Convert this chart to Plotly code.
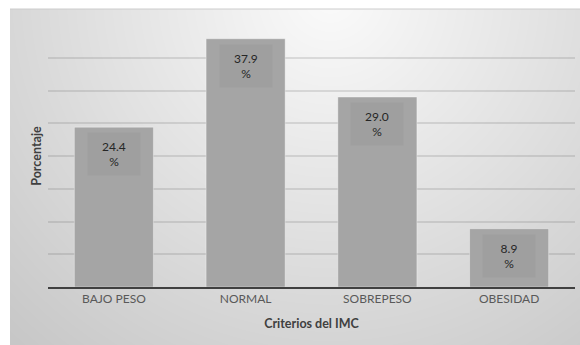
import base64, struct, zlib, math
import plotly.graph_objects as go

categories = ["BAJO PESO", "NORMAL", "SOBREPESO", "OBESIDAD"]
values = [24.4, 37.9, 29.0, 8.9]
label_texts = ["24.4<br>%", "37.9<br>%", "29.0<br>%", "8.9<br>%"]

W, H = 580, 345
ML, MR, MT, MB = 48, 5, 25, 58
PW, PH = W - ML - MR, H - MT - MB

# background gradient (radial, light at top-centre) as an inline PNG
PX0, PY0 = 10, 9
GW, GH = W - PX0, H - PY0


def make_png(w, h, fn):
    raw = bytearray()
    for j in range(h):
        raw.append(0)
        for i in range(w):
            raw.append(fn(i, j))

    def chunk(tag, data):
        c = tag + data
        return struct.pack(">I", len(data)) + c + struct.pack(">I", zlib.crc32(c) & 0xFFFFFFFF)

    png = b"\x89PNG\r\n\x1a\n"
    png += chunk(b"IHDR", struct.pack(">IIBBBBB", w, h, 8, 0, 0, 0, 0))
    png += chunk(b"IDAT", zlib.compress(bytes(raw), 9))
    png += chunk(b"IEND", b"")
    return png


def shade(i, j):
    x = i + PX0
    y = j + PY0
    d = math.hypot((x - 330) * 1.0, (y + 5) * 1.0)
    v = 251 - 0.11 * d
    return int(max(199, min(251, v)))


png = make_png(GW, GH, shade)
src = "data:image/png;base64," + base64.b64encode(png).decode()

fig = go.Figure()
fig.add_trace(go.Bar(
    x=categories, y=values,
    marker=dict(color="#a5a5a5", line=dict(color="rgba(255,255,255,0.35)", width=1)),
    width=0.6,
    hoverinfo="skip",
))

for c, v, t in zip(categories, values, label_texts):
    fig.add_annotation(
        x=c, y=v, xref="x", yref="y", text=t, showarrow=False,
        yanchor="top", yshift=-5, width=50, height=40,
        bgcolor="rgba(0,0,0,0.035)", valign="middle",
        font=dict(family="Lato", size=12, color="#262626"),
    )

fig.add_layout_image(
    source=src, xref="paper", yref="paper",
    x=(PX0 - ML) / PW, y=(H - MB - PY0) / PH,
    sizex=GW / PW, sizey=GH / PH,
    xanchor="left", yanchor="top", sizing="stretch", layer="below",
)
# thin top border of the chart panel
fig.add_shape(type="line", xref="paper", yref="paper",
              x0=(PX0 - ML) / PW, x1=1 + MR / PW,
              y0=(H - MB - PY0) / PH, y1=(H - MB - PY0) / PH,
              line=dict(color="#cccccc", width=1))

fig.update_layout(
    width=W, height=H,
    margin=dict(l=ML, r=MR, t=MT, b=MB),
    paper_bgcolor="white", plot_bgcolor="rgba(0,0,0,0)",
    showlegend=False, bargap=0.4,
    font=dict(family="Lato", color="#595959"),
    xaxis=dict(
        showline=True, linecolor="#404040", linewidth=2,
        ticks="", showgrid=False,
        tickfont=dict(family="Lato", size=12, color="#595959"),
        title=dict(text="<b>Criterios del IMC</b>", standoff=14,
                   font=dict(family="Lato", size=12.5, color="#404040")),
    ),
    yaxis=dict(
        range=[0, 40], dtick=5, showticklabels=False, ticks="",
        showgrid=True, gridcolor="rgba(90,90,90,0.17)", gridwidth=1.5,
        zeroline=False, showline=False,
        title=dict(text="<b>Porcentaje</b>", standoff=2,
                   font=dict(family="Lato", size=12.5, color="#404040")),
    ),
)

fig.write_html("out.html")
